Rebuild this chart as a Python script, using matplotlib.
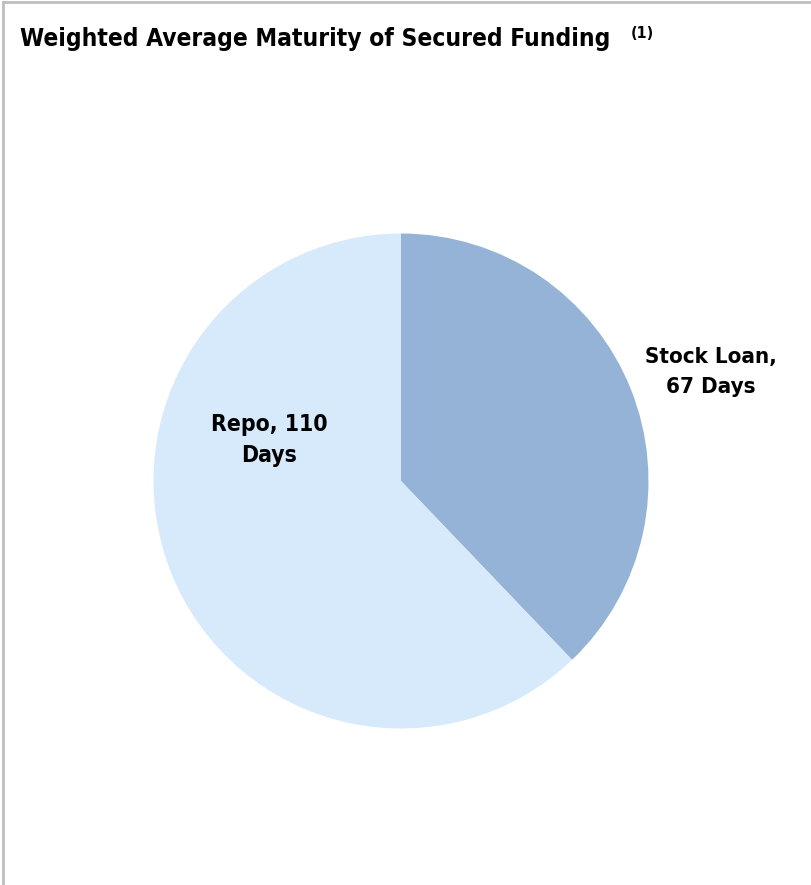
import matplotlib
matplotlib.use("Agg")
import matplotlib.pyplot as plt
from matplotlib.lines import Line2D

categories = ["Stock Loan", "Repo"]
days = [67, 110]
labels = ["Stock Loan,\n67 Days", "Repo, 110\nDays"]
colors = ["#95B3D7", "#D7EAFB"]
title = "Weighted Average Maturity of Secured Funding"
title_note = "(1)"

W, H = 811, 885
fig = plt.figure(figsize=(W / 100, H / 100), dpi=100)
fam = ["DejaVu Sans"]

fig.add_artist(Line2D([3 / W, 3 / W], [0, 1 - 2 / H], transform=fig.transFigure, color="#BFBFBF", lw=2))
fig.add_artist(Line2D([3 / W, 1], [1 - 2 / H, 1 - 2 / H], transform=fig.transFigure, color="#BFBFBF", lw=2))

cx, cy, r = 401, 481, 247.5
ax = fig.add_axes([(cx - r) / W, (H - cy - r) / H, 2 * r / W, 2 * r / H])
ax.pie(days, colors=colors, startangle=90, counterclock=False, radius=1,
       wedgeprops=dict(linewidth=0))
ax.set_xlim(-1, 1)
ax.set_ylim(-1, 1)
ax.set_aspect("auto")
ax.axis("off")

def px(x, y):
    return x / W, 1 - y / H

kw = dict(fontweight="bold", family=fam, fontstretch="condensed")
fig.text(*px(711, 372), labels[0], ha="center", va="center", fontsize=16, linespacing=1.6, **kw)
fig.text(*px(269, 440), labels[1], ha="center", va="center", fontsize=16.5, linespacing=1.42, **kw)
fig.text(*px(20, 39), title, ha="left", va="center", fontsize=17.6, **kw)
fig.text(*px(631, 33), title_note, ha="left", va="center", fontsize=11.5, **kw)

fig.savefig("out.png", dpi=100)
